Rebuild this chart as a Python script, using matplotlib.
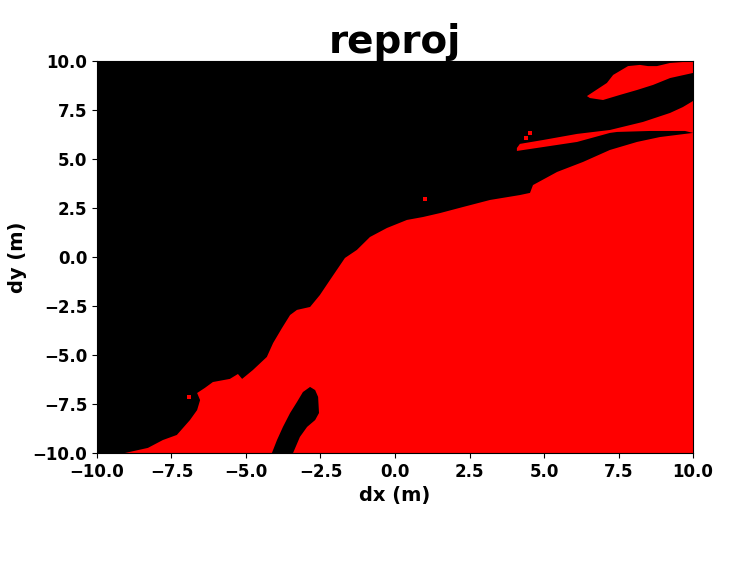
import matplotlib
matplotlib.use("Agg")
import matplotlib.pyplot as plt

# contour du grand domaine rouge (bord superieur, de gauche a droite)
main_x = [-9.06, -8.29, -7.79, -7.32, -6.88, -6.64, -6.54, -6.64, -6.38, -6.11,
          -5.54, -5.27, -5.13, -4.77, -4.30, -4.09, -3.79, -3.52, -3.29, -2.85,
          -2.52, -2.18, -1.68, -1.28, -0.84, -0.27, 0.40, 0.94, 1.51, 2.28,
          3.19, 4.19, 4.53, 4.63, 5.44, 6.31, 7.21, 8.12, 8.89, 9.73, 10.0, 10.0]
main_y = [-10.0, -9.74, -9.34, -9.08, -8.32, -7.81, -7.30, -6.94, -6.68, -6.38,
          -6.22, -5.97, -6.22, -5.77, -5.10, -4.39, -3.62, -2.96, -2.70, -2.55,
          -1.94, -1.17, -0.05, 0.36, 1.02, 1.48, 1.89, 2.04, 2.24, 2.55,
          2.91, 3.16, 3.27, 3.67, 4.34, 4.85, 5.46, 5.87, 6.12, 6.28, 6.33, -10.0]

# trou noir (ellipse) en bas
hole_x = [-4.13, -3.96, -3.76, -3.52, -3.29, -3.09, -2.85, -2.68, -2.58, -2.55,
          -2.68, -2.95, -3.19, -3.42]
hole_y = [-10.0, -9.34, -8.67, -7.96, -7.40, -6.89, -6.63, -6.79, -7.14, -7.96,
          -8.32, -8.67, -9.18, -10.0]

# bande fine a droite
strip_x = [4.09, 4.19, 4.97, 6.11, 7.21, 8.32, 9.23, 9.66, 10.0, 10.0,
           9.73, 8.56, 7.45, 7.21, 6.11, 4.97, 4.09]
strip_y = [5.56, 5.77, 5.97, 6.28, 6.48, 6.89, 7.35, 7.65, 7.96, 6.33,
           6.43, 6.43, 6.38, 6.33, 5.87, 5.61, 5.41]

# tache en haut a droite
blob_x = [6.44, 7.11, 7.32, 7.82, 8.22, 8.49, 8.79, 9.23, 9.66, 10.0,
          10.0, 9.23, 8.66, 8.12, 7.55, 6.98, 6.54]
blob_y = [8.21, 8.88, 9.29, 9.74, 9.80, 9.74, 9.74, 9.90, 9.95, 10.0,
          9.39, 9.13, 8.78, 8.52, 8.27, 8.01, 8.11]

# points isoles
dots_x = [1.01, -6.91, 4.53, 4.40]
dots_y = [2.96, -7.14, 6.33, 6.07]

fig = plt.figure(figsize=(7.42, 5.69), dpi=100)
ax = fig.add_axes([0.1307, 0.2039, 0.8033, 0.6889])
ax.set_facecolor("black")

ax.fill(main_x, main_y, color="red", lw=0)
ax.fill(hole_x, hole_y, color="black", lw=0)
ax.fill(strip_x, strip_y, color="red", lw=0)
ax.fill(blob_x, blob_y, color="red", lw=0)
ax.scatter(dots_x, dots_y, s=12, marker="s", color="red", lw=0)

ax.set_xlim(-10, 10)
ax.set_ylim(-10, 10)
ax.set_xticks([-10, -7.5, -5, -2.5, 0, 2.5, 5, 7.5, 10])
ax.set_yticks([-10, -7.5, -5, -2.5, 0, 2.5, 5, 7.5, 10])
ax.tick_params(labelsize=12)
for lab in ax.get_xticklabels() + ax.get_yticklabels():
    lab.set_fontweight("bold")

ax.set_xlabel("dx (m)", fontsize=14, fontweight="bold")
ax.set_ylabel("dy (m)", fontsize=14, fontweight="bold")
ax.set_title("reproj", fontsize=28, fontweight="bold")

fig.savefig("out.png", dpi=100)
